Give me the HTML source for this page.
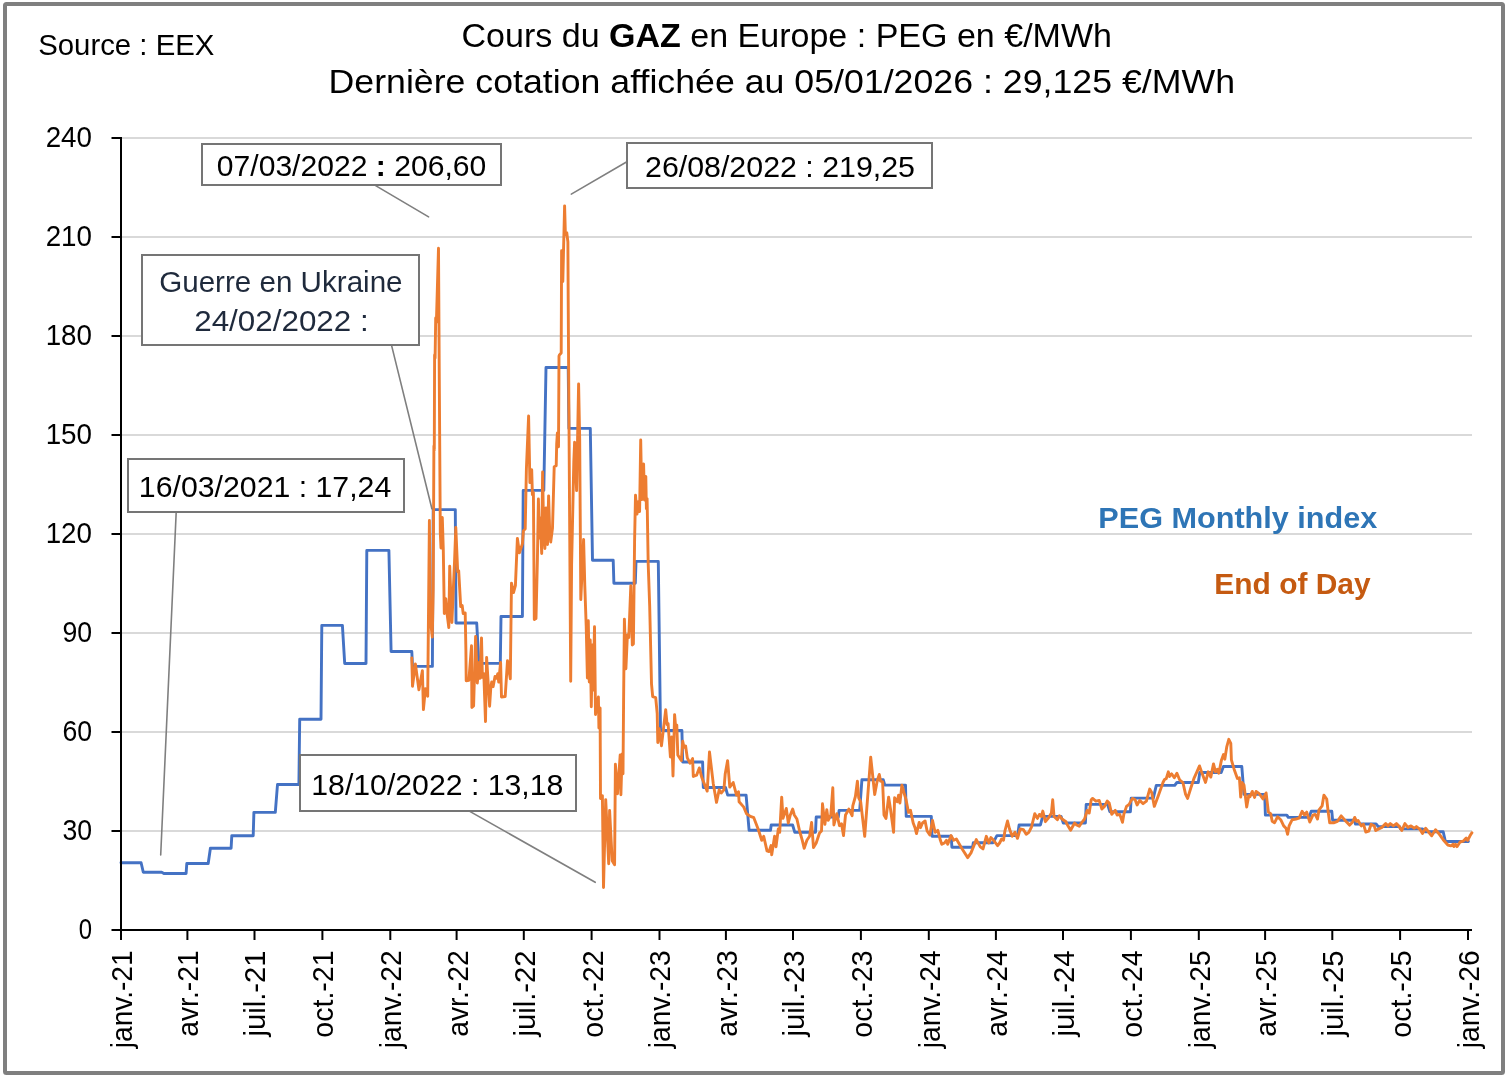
<!DOCTYPE html>
<html lang="fr">
<head>
<meta charset="utf-8">
<title>Cours du GAZ en Europe : PEG en €/MWh</title>
<style>html,body{margin:0;padding:0;background:#fff}svg{display:block}</style>
</head>
<body>
<svg width="1510" height="1076" viewBox="0 0 1510 1076" font-family="'Liberation Sans', sans-serif">
<defs><filter id="g" filterUnits="userSpaceOnUse" x="0" y="0" width="1510" height="1076"><feOffset dx="0" dy="0"/></filter></defs>
<rect x="0" y="0" width="1510" height="1076" fill="#ffffff"/>
<rect x="5" y="4" width="1498" height="1069" rx="1.5" ry="1.5" fill="#ffffff" stroke="#7f7f7f" stroke-width="4"/>
<line x1="121.0" y1="831.0" x2="1472.0" y2="831.0" stroke="#d9d9d9" stroke-width="2"/>
<line x1="121.0" y1="732.0" x2="1472.0" y2="732.0" stroke="#d9d9d9" stroke-width="2"/>
<line x1="121.0" y1="633.0" x2="1472.0" y2="633.0" stroke="#d9d9d9" stroke-width="2"/>
<line x1="121.0" y1="534.0" x2="1472.0" y2="534.0" stroke="#d9d9d9" stroke-width="2"/>
<line x1="121.0" y1="435.0" x2="1472.0" y2="435.0" stroke="#d9d9d9" stroke-width="2"/>
<line x1="121.0" y1="336.0" x2="1472.0" y2="336.0" stroke="#d9d9d9" stroke-width="2"/>
<line x1="121.0" y1="237.0" x2="1472.0" y2="237.0" stroke="#d9d9d9" stroke-width="2"/>
<line x1="121.0" y1="138.0" x2="1472.0" y2="138.0" stroke="#d9d9d9" stroke-width="2"/>
<path d="M121.0 862.7 L141.1 862.7 L143.3 872.3 L161.7 872.3 L163.9 873.5 L186.1 873.5 L186.8 863.5 L208.2 863.5 L210.4 848.2 L231.1 848.2 L231.8 835.7 L253.2 835.7 L253.9 812.4 L275.3 812.4 L277.5 784.5 L298.9 784.5 L299.7 719.2 L321.0 719.2 L321.8 625.4 L342.4 625.4 L344.7 663.5 L366.0 663.5 L366.8 550.4 L388.9 550.4 L391.1 651.5 L411.8 651.5 L412.5 666.4 L432.4 666.4 L433.2 509.6 L455.3 509.6 L456.0 623.0 L476.7 623.0 L478.9 663.4 L500.3 663.4 L501.0 616.5 L522.4 616.5 L523.2 490.4 L543.8 490.4 L546.0 367.5 L568.2 367.5 L568.9 428.4 L590.3 428.4 L592.5 560.3 L613.2 560.3 L613.9 583.3 L635.3 583.3 L636.0 561.4 L658.3 561.4 L660.5 730.5 L681.9 730.5 L682.7 762.0 L702.6 762.0 L703.3 787.5 L725.5 787.5 L727.7 795.1 L746.1 795.1 L749.1 830.3 L770.5 830.3 L771.2 825.0 L792.6 825.0 L794.8 832.3 L815.5 832.3 L816.2 817.0 L838.3 817.0 L839.1 810.4 L859.7 810.4 L861.9 779.8 L883.3 779.8 L884.8 785.1 L905.5 785.1 L906.2 816.4 L931.3 816.4 L932.0 836.3 L951.2 836.3 L951.9 847.2 L972.6 847.2 L973.3 842.7 L993.2 842.7 L996.9 835.6 L1017.6 835.6 L1019.1 825.0 L1040.4 825.0 L1042.7 816.4 L1061.1 816.4 L1063.3 823.0 L1085.4 823.0 L1086.2 804.4 L1107.6 804.4 L1109.8 811.7 L1130.4 811.7 L1131.2 798.1 L1153.3 798.1 L1156.3 785.4 L1174.7 785.4 L1176.9 782.5 L1198.3 782.5 L1199.8 772.5 L1221.2 772.5 L1223.4 766.5 L1241.8 766.5 L1244.0 794.4 L1264.7 794.4 L1265.4 815.1 L1286.8 815.1 L1288.3 817.4 L1309.0 817.4 L1311.2 811.3 L1331.8 811.3 L1332.6 820.2 L1354.7 820.2 L1355.4 824.0 L1376.1 824.0 L1378.3 826.6 L1399.7 826.6 L1400.4 828.9 L1422.6 828.9 L1424.8 831.7 L1443.2 831.7 L1445.4 841.5 L1468.4 841.5" fill="none" stroke="#4472c4" stroke-width="2.9" stroke-linejoin="round" stroke-linecap="round"/>
<path d="M411.8 657.9 L412.5 686.2 L415.4 663.9 L418.9 689.7 L422.4 670.8 L423.4 709.6 L425.4 688.7 L427.7 696.2 L429.4 520.5 L430.2 618.0 L432.3 637.0 L433.2 590.0 L433.9 446.0 L434.3 450.0 L434.6 355.0 L435.1 358.0 L435.7 318.0 L436.4 322.0 L438.5 248.2 L439.3 380.0 L440.3 533.0 L441.0 548.0 L442.3 517.5 L443.3 550.0 L444.3 613.6 L445.8 598.7 L447.3 615.6 L448.8 627.5 L449.7 566.3 L451.9 622.5 L454.6 560.0 L455.8 527.5 L457.7 571.8 L458.7 570.8 L460.7 606.6 L462.2 605.6 L463.2 613.6 L465.2 613.0 L465.9 650.0 L466.2 680.7 L468.9 680.2 L471.5 645.8 L471.9 707.5 L473.6 706.0 L475.6 636.5 L477.3 683.0 L479.2 662.5 L480.1 678.3 L481.5 637.9 L482.4 677.4 L483.8 673.7 L485.5 721.6 L486.6 657.4 L489.6 706.2 L490.8 687.6 L491.7 682.0 L493.1 686.7 L495.0 676.5 L496.4 678.3 L497.8 673.7 L498.7 682.0 L500.6 662.5 L501.5 697.0 L505.2 696.5 L507.5 660.7 L510.3 678.8 L511.2 605.5 L511.5 583.1 L513.5 592.6 L515.4 585.6 L517.4 538.4 L519.4 552.8 L522.4 543.9 L523.4 530.9 L525.2 528.9 L526.4 468.7 L528.6 416.0 L529.9 482.6 L531.7 469.7 L532.4 494.6 L533.4 492.6 L533.9 560.0 L534.3 619.5 L536.0 618.5 L537.4 560.0 L538.4 499.0 L539.4 538.0 L540.3 518.0 L541.7 553.5 L542.6 471.9 L543.6 528.0 L544.9 548.5 L546.0 508.0 L547.5 544.5 L548.6 495.9 L549.6 528.0 L550.7 542.0 L552.5 528.0 L554.2 466.7 L556.2 465.7 L556.7 443.8 L557.4 432.9 L558.5 446.8 L559.0 356.0 L559.6 354.7 L561.2 353.0 L561.6 250.7 L562.8 281.5 L564.6 205.9 L565.4 234.8 L566.8 232.8 L567.9 242.0 L568.2 300.0 L568.9 409.0 L569.6 516.0 L570.7 681.2 L571.6 565.0 L572.4 528.0 L573.8 462.0 L574.6 442.3 L576.6 490.6 L578.6 384.0 L579.7 440.0 L580.8 599.6 L583.6 539.4 L584.8 585.6 L586.2 626.0 L587.4 678.0 L588.3 620.8 L589.3 682.0 L590.2 640.0 L591.3 706.7 L592.4 645.0 L593.2 690.0 L594.5 626.7 L595.5 714.5 L598.4 697.0 L598.9 728.0 L600.1 708.0 L600.5 798.6 L602.4 795.7 L603.5 887.5 L605.7 799.6 L608.7 863.7 L609.6 810.5 L612.2 860.7 L614.6 864.7 L615.4 764.3 L617.5 793.7 L620.2 754.9 L620.9 794.7 L622.1 753.9 L623.0 773.8 L623.6 700.0 L624.4 619.1 L625.9 668.8 L627.4 634.9 L628.8 637.5 L630.8 585.7 L632.3 645.0 L633.4 644.0 L634.6 540.0 L635.5 495.2 L637.0 514.0 L638.3 501.6 L639.6 511.6 L640.7 440.0 L641.8 499.6 L643.6 464.0 L644.5 500.0 L645.8 476.4 L646.4 508.6 L647.1 498.6 L648.2 563.9 L649.7 606.6 L651.5 683.8 L652.7 696.7 L655.7 697.7 L657.2 713.6 L657.8 742.5 L659.2 728.6 L661.5 745.7 L665.7 709.7 L667.1 724.6 L668.1 723.6 L670.4 757.0 L671.8 737.0 L673.0 776.0 L674.6 714.6 L675.6 726.6 L676.8 725.1 L677.8 755.0 L681.3 760.6 L682.7 741.3 L684.0 747.3 L685.6 746.0 L687.3 757.9 L690.0 763.2 L692.6 758.6 L693.3 776.5 L696.6 775.2 L699.3 767.9 L701.9 777.8 L707.2 791.1 L709.5 751.9 L713.2 783.2 L716.5 802.4 L719.2 789.8 L721.2 793.1 L723.9 789.8 L725.2 773.9 L727.6 760.6 L729.8 787.1 L733.2 782.5 L736.5 795.1 L738.5 791.8 L739.1 801.8 L743.8 807.1 L746.5 813.7 L750.4 816.4 L753.8 817.7 L758.4 829.7 L761.7 840.3 L763.7 836.3 L767.0 850.9 L769.0 851.6 L771.0 845.6 L771.7 854.9 L774.6 836.3 L776.0 846.9 L778.3 829.0 L779.7 832.3 L781.7 797.1 L783.0 818.4 L786.3 808.4 L788.3 823.0 L790.3 815.0 L792.7 809.1 L794.3 815.0 L796.9 819.0 L799.6 831.0 L802.3 840.3 L804.2 848.3 L806.9 840.3 L809.6 836.3 L811.6 822.4 L813.5 847.6 L816.2 843.0 L819.5 833.0 L821.5 831.0 L822.5 803.8 L824.9 824.4 L826.8 809.7 L828.2 820.4 L830.8 815.0 L832.8 787.8 L833.9 825.0 L836.8 813.7 L839.5 825.7 L841.5 823.7 L843.5 835.6 L845.5 815.0 L848.8 809.1 L852.1 815.7 L852.8 805.8 L855.4 796.5 L857.4 781.2 L858.7 797.8 L860.7 801.8 L864.7 836.3 L868.7 783.2 L870.7 757.2 L874.7 794.5 L877.3 780.5 L879.3 774.5 L880.6 781.2 L882.6 781.8 L884.0 815.0 L886.0 818.4 L888.6 797.1 L890.6 809.7 L893.6 832.3 L894.6 797.8 L897.2 801.8 L898.6 795.1 L899.9 803.1 L901.9 785.1 L903.9 792.5 L905.9 799.1 L908.5 812.4 L910.5 810.4 L913.2 823.0 L915.2 828.3 L916.5 833.6 L919.2 822.4 L920.5 827.7 L922.5 823.0 L925.1 821.0 L927.1 831.0 L929.8 835.0 L932.5 820.4 L935.1 832.3 L937.8 830.3 L940.4 840.3 L941.8 844.3 L944.4 843.0 L946.4 840.3 L947.7 844.3 L951.1 835.6 L953.7 840.3 L956.4 839.0 L961.7 848.3 L967.7 857.6 L971.0 852.9 L976.3 839.6 L980.3 846.9 L983.0 848.9 L986.3 836.3 L988.9 843.0 L990.9 837.6 L993.6 840.3 L997.6 845.6 L999.6 843.0 L1001.6 839.0 L1003.5 840.3 L1004.9 831.0 L1007.5 821.0 L1009.5 829.0 L1012.2 836.3 L1014.9 832.3 L1017.5 838.3 L1020.2 829.0 L1023.5 829.7 L1026.2 834.3 L1028.8 832.3 L1031.5 827.0 L1034.8 813.7 L1037.4 818.4 L1039.4 814.4 L1041.4 816.4 L1042.8 811.1 L1045.4 821.7 L1048.1 818.4 L1051.4 813.1 L1052.7 799.8 L1054.0 816.4 L1057.4 819.7 L1059.4 815.7 L1062.0 819.0 L1066.0 821.7 L1066.6 823.6 L1070.6 830.3 L1074.6 823.0 L1076.6 825.0 L1079.3 826.3 L1081.9 822.3 L1084.6 819.0 L1087.2 810.4 L1089.2 813.0 L1091.2 799.7 L1092.6 798.4 L1095.9 801.1 L1099.2 800.4 L1101.9 809.0 L1104.5 806.4 L1107.2 801.1 L1109.2 803.1 L1111.8 814.4 L1115.2 810.4 L1117.1 815.0 L1119.8 814.4 L1122.5 822.3 L1123.8 814.4 L1126.5 806.4 L1129.1 804.4 L1132.4 798.4 L1135.1 799.7 L1137.1 805.0 L1139.7 800.4 L1143.1 803.7 L1146.4 801.1 L1149.7 789.1 L1151.7 792.4 L1154.3 806.4 L1158.3 795.8 L1163.0 782.5 L1164.3 779.8 L1166.3 778.5 L1168.3 771.8 L1169.6 776.5 L1171.6 773.8 L1174.3 777.8 L1176.9 773.2 L1179.6 779.8 L1182.9 782.5 L1185.6 794.4 L1187.6 798.4 L1190.9 787.8 L1194.2 777.8 L1196.9 771.8 L1199.5 765.9 L1201.5 771.8 L1205.5 782.5 L1208.2 771.8 L1210.8 777.1 L1213.5 763.9 L1215.5 771.8 L1217.5 769.2 L1218.8 773.2 L1221.5 759.9 L1223.5 754.5 L1224.8 759.2 L1226.8 746.6 L1228.8 739.3 L1230.8 743.3 L1231.4 759.9 L1234.1 769.2 L1237.4 778.5 L1239.4 777.8 L1240.7 797.1 L1242.1 782.5 L1244.0 785.1 L1246.7 807.0 L1248.7 795.8 L1250.0 796.7 L1252.3 791.4 L1254.6 797.5 L1256.1 791.4 L1259.2 793.7 L1263.0 799.0 L1266.1 792.9 L1268.4 812.1 L1270.7 813.6 L1272.2 821.3 L1274.5 822.8 L1277.6 816.7 L1280.7 819.7 L1283.7 825.9 L1286.0 828.2 L1287.6 834.3 L1289.1 825.9 L1292.2 819.7 L1296.0 819.0 L1299.1 818.2 L1302.1 811.3 L1304.4 815.1 L1306.7 812.1 L1309.8 822.0 L1312.9 815.1 L1315.2 814.4 L1317.5 819.0 L1319.0 809.8 L1322.1 805.9 L1323.9 795.2 L1326.7 799.0 L1328.2 812.1 L1329.7 822.8 L1333.6 822.8 L1337.4 821.3 L1341.2 815.9 L1345.8 821.3 L1349.7 825.1 L1352.7 822.0 L1354.7 817.4 L1356.6 821.3 L1358.1 820.5 L1361.2 825.9 L1363.5 824.3 L1365.8 832.0 L1368.8 831.2 L1371.1 824.3 L1374.2 825.9 L1375.7 830.5 L1378.8 828.9 L1381.9 827.4 L1385.7 823.6 L1388.0 825.9 L1390.3 823.6 L1393.4 825.9 L1396.4 823.6 L1398.7 825.9 L1401.8 830.5 L1404.9 823.6 L1407.9 827.4 L1411.0 825.9 L1414.1 828.2 L1416.4 826.6 L1420.2 829.7 L1422.5 833.5 L1425.6 828.2 L1428.6 832.0 L1431.7 835.8 L1435.5 829.7 L1439.4 834.3 L1443.2 839.7 L1447.8 845.0 L1450.9 845.8 L1453.2 844.3 L1453.9 846.6 L1455.5 844.3 L1457.0 846.6 L1460.1 842.0 L1463.1 841.2 L1466.2 838.1 L1467.7 840.4 L1470.0 835.8 L1471.9 832.8" fill="none" stroke="#ed7d31" stroke-width="2.9" stroke-linejoin="round" stroke-linecap="round"/>
<line x1="121.0" y1="137" x2="121.0" y2="931.0" stroke="#000" stroke-width="2"/>
<line x1="120.0" y1="930.0" x2="1472.0" y2="930.0" stroke="#000" stroke-width="2"/>
<line x1="111.5" y1="930.0" x2="121.0" y2="930.0" stroke="#000" stroke-width="2"/>
<line x1="111.5" y1="831.0" x2="121.0" y2="831.0" stroke="#000" stroke-width="2"/>
<line x1="111.5" y1="732.0" x2="121.0" y2="732.0" stroke="#000" stroke-width="2"/>
<line x1="111.5" y1="633.0" x2="121.0" y2="633.0" stroke="#000" stroke-width="2"/>
<line x1="111.5" y1="534.0" x2="121.0" y2="534.0" stroke="#000" stroke-width="2"/>
<line x1="111.5" y1="435.0" x2="121.0" y2="435.0" stroke="#000" stroke-width="2"/>
<line x1="111.5" y1="336.0" x2="121.0" y2="336.0" stroke="#000" stroke-width="2"/>
<line x1="111.5" y1="237.0" x2="121.0" y2="237.0" stroke="#000" stroke-width="2"/>
<line x1="111.5" y1="138.0" x2="121.0" y2="138.0" stroke="#000" stroke-width="2"/>
<line x1="121.0" y1="930.0" x2="121.0" y2="940" stroke="#000" stroke-width="2"/>
<line x1="187.4" y1="930.0" x2="187.4" y2="940" stroke="#000" stroke-width="2"/>
<line x1="254.5" y1="930.0" x2="254.5" y2="940" stroke="#000" stroke-width="2"/>
<line x1="322.4" y1="930.0" x2="322.4" y2="940" stroke="#000" stroke-width="2"/>
<line x1="390.3" y1="930.0" x2="390.3" y2="940" stroke="#000" stroke-width="2"/>
<line x1="456.6" y1="930.0" x2="456.6" y2="940" stroke="#000" stroke-width="2"/>
<line x1="523.8" y1="930.0" x2="523.8" y2="940" stroke="#000" stroke-width="2"/>
<line x1="591.6" y1="930.0" x2="591.6" y2="940" stroke="#000" stroke-width="2"/>
<line x1="659.5" y1="930.0" x2="659.5" y2="940" stroke="#000" stroke-width="2"/>
<line x1="725.9" y1="930.0" x2="725.9" y2="940" stroke="#000" stroke-width="2"/>
<line x1="793.0" y1="930.0" x2="793.0" y2="940" stroke="#000" stroke-width="2"/>
<line x1="860.9" y1="930.0" x2="860.9" y2="940" stroke="#000" stroke-width="2"/>
<line x1="928.8" y1="930.0" x2="928.8" y2="940" stroke="#000" stroke-width="2"/>
<line x1="995.9" y1="930.0" x2="995.9" y2="940" stroke="#000" stroke-width="2"/>
<line x1="1063.0" y1="930.0" x2="1063.0" y2="940" stroke="#000" stroke-width="2"/>
<line x1="1130.9" y1="930.0" x2="1130.9" y2="940" stroke="#000" stroke-width="2"/>
<line x1="1198.8" y1="930.0" x2="1198.8" y2="940" stroke="#000" stroke-width="2"/>
<line x1="1265.1" y1="930.0" x2="1265.1" y2="940" stroke="#000" stroke-width="2"/>
<line x1="1332.3" y1="930.0" x2="1332.3" y2="940" stroke="#000" stroke-width="2"/>
<line x1="1400.1" y1="930.0" x2="1400.1" y2="940" stroke="#000" stroke-width="2"/>
<line x1="1468.0" y1="930.0" x2="1468.0" y2="940" stroke="#000" stroke-width="2"/>
<line x1="375.6" y1="185.6" x2="428.6" y2="216.9" stroke="#7f7f7f" stroke-width="1.6" stroke-linecap="round"/>
<line x1="391.5" y1="345.1" x2="431.9" y2="508.8" stroke="#7f7f7f" stroke-width="1.6" stroke-linecap="round"/>
<line x1="626.9" y1="161.8" x2="571.3" y2="194.1" stroke="#7f7f7f" stroke-width="1.6" stroke-linecap="round"/>
<line x1="176.2" y1="512.0" x2="160.7" y2="855.0" stroke="#7f7f7f" stroke-width="1.6" stroke-linecap="round"/>
<line x1="470.2" y1="811.6" x2="595.2" y2="882.3" stroke="#7f7f7f" stroke-width="1.6" stroke-linecap="round"/>
<rect x="202" y="144" width="299.0" height="41.0" fill="#fff" stroke="#757575" stroke-width="2"/>
<rect x="142" y="255" width="277.0" height="90.0" fill="#fff" stroke="#757575" stroke-width="2"/>
<rect x="627" y="143" width="305.0" height="45.0" fill="#fff" stroke="#757575" stroke-width="2"/>
<rect x="128" y="459" width="276.0" height="53.0" fill="#fff" stroke="#757575" stroke-width="2"/>
<rect x="300" y="755" width="276.0" height="56.0" fill="#fff" stroke="#757575" stroke-width="2"/>
<g filter="url(#g)">
<text x="92" y="939.0" font-size="28.9" text-anchor="end" textLength="13.3" lengthAdjust="spacingAndGlyphs" fill="#000">0</text>
<text x="92" y="840.0" font-size="28.9" text-anchor="end" textLength="29.6" lengthAdjust="spacingAndGlyphs" fill="#000">30</text>
<text x="92" y="741.0" font-size="28.9" text-anchor="end" textLength="29.6" lengthAdjust="spacingAndGlyphs" fill="#000">60</text>
<text x="92" y="642.0" font-size="28.9" text-anchor="end" textLength="29.6" lengthAdjust="spacingAndGlyphs" fill="#000">90</text>
<text x="92" y="543.0" font-size="28.9" text-anchor="end" textLength="46.3" lengthAdjust="spacingAndGlyphs" fill="#000">120</text>
<text x="92" y="444.0" font-size="28.9" text-anchor="end" textLength="46.3" lengthAdjust="spacingAndGlyphs" fill="#000">150</text>
<text x="92" y="345.0" font-size="28.9" text-anchor="end" textLength="46.3" lengthAdjust="spacingAndGlyphs" fill="#000">180</text>
<text x="92" y="246.0" font-size="28.9" text-anchor="end" textLength="46.3" lengthAdjust="spacingAndGlyphs" fill="#000">210</text>
<text x="92" y="147.0" font-size="28.9" text-anchor="end" textLength="46.3" lengthAdjust="spacingAndGlyphs" fill="#000">240</text>
<text transform="translate(131.9 950.4) rotate(-90)" font-size="28.9" text-anchor="end" textLength="97.8" lengthAdjust="spacingAndGlyphs" fill="#000">janv.-21</text>
<text transform="translate(198.3 950.4) rotate(-90)" font-size="28.9" text-anchor="end" textLength="86.3" lengthAdjust="spacingAndGlyphs" fill="#000">avr.-21</text>
<text transform="translate(265.4 950.4) rotate(-90)" font-size="28.9" text-anchor="end" textLength="86.1" lengthAdjust="spacingAndGlyphs" fill="#000">juil.-21</text>
<text transform="translate(333.3 950.4) rotate(-90)" font-size="28.9" text-anchor="end" textLength="87.3" lengthAdjust="spacingAndGlyphs" fill="#000">oct.-21</text>
<text transform="translate(401.2 950.4) rotate(-90)" font-size="28.9" text-anchor="end" textLength="97.8" lengthAdjust="spacingAndGlyphs" fill="#000">janv.-22</text>
<text transform="translate(467.5 950.4) rotate(-90)" font-size="28.9" text-anchor="end" textLength="86.3" lengthAdjust="spacingAndGlyphs" fill="#000">avr.-22</text>
<text transform="translate(534.7 950.4) rotate(-90)" font-size="28.9" text-anchor="end" textLength="86.1" lengthAdjust="spacingAndGlyphs" fill="#000">juil.-22</text>
<text transform="translate(602.5 950.4) rotate(-90)" font-size="28.9" text-anchor="end" textLength="87.3" lengthAdjust="spacingAndGlyphs" fill="#000">oct.-22</text>
<text transform="translate(670.4 950.4) rotate(-90)" font-size="28.9" text-anchor="end" textLength="97.8" lengthAdjust="spacingAndGlyphs" fill="#000">janv.-23</text>
<text transform="translate(736.8 950.4) rotate(-90)" font-size="28.9" text-anchor="end" textLength="86.3" lengthAdjust="spacingAndGlyphs" fill="#000">avr.-23</text>
<text transform="translate(803.9 950.4) rotate(-90)" font-size="28.9" text-anchor="end" textLength="86.1" lengthAdjust="spacingAndGlyphs" fill="#000">juil.-23</text>
<text transform="translate(871.8 950.4) rotate(-90)" font-size="28.9" text-anchor="end" textLength="87.3" lengthAdjust="spacingAndGlyphs" fill="#000">oct.-23</text>
<text transform="translate(939.7 950.4) rotate(-90)" font-size="28.9" text-anchor="end" textLength="97.8" lengthAdjust="spacingAndGlyphs" fill="#000">janv.-24</text>
<text transform="translate(1006.8 950.4) rotate(-90)" font-size="28.9" text-anchor="end" textLength="86.3" lengthAdjust="spacingAndGlyphs" fill="#000">avr.-24</text>
<text transform="translate(1073.9 950.4) rotate(-90)" font-size="28.9" text-anchor="end" textLength="86.1" lengthAdjust="spacingAndGlyphs" fill="#000">juil.-24</text>
<text transform="translate(1141.8 950.4) rotate(-90)" font-size="28.9" text-anchor="end" textLength="87.3" lengthAdjust="spacingAndGlyphs" fill="#000">oct.-24</text>
<text transform="translate(1209.7 950.4) rotate(-90)" font-size="28.9" text-anchor="end" textLength="97.8" lengthAdjust="spacingAndGlyphs" fill="#000">janv.-25</text>
<text transform="translate(1276.0 950.4) rotate(-90)" font-size="28.9" text-anchor="end" textLength="86.3" lengthAdjust="spacingAndGlyphs" fill="#000">avr.-25</text>
<text transform="translate(1343.2 950.4) rotate(-90)" font-size="28.9" text-anchor="end" textLength="86.1" lengthAdjust="spacingAndGlyphs" fill="#000">juil.-25</text>
<text transform="translate(1411.0 950.4) rotate(-90)" font-size="28.9" text-anchor="end" textLength="87.3" lengthAdjust="spacingAndGlyphs" fill="#000">oct.-25</text>
<text transform="translate(1478.9 950.4) rotate(-90)" font-size="28.9" text-anchor="end" textLength="97.8" lengthAdjust="spacingAndGlyphs" fill="#000">janv.-26</text>
<text x="216.8" y="175.9" font-size="28.9" textLength="269.5" lengthAdjust="spacingAndGlyphs" fill="#000">07/03/2022 <tspan font-weight="bold">:</tspan> 206,60</text>
<text x="159.2" y="291.8" font-size="28.9" font-weight="normal" text-anchor="start" textLength="243.4" lengthAdjust="spacingAndGlyphs" fill="#1f2a3c">Guerre en Ukraine</text>
<text x="194.2" y="331.0" font-size="28.9" font-weight="normal" text-anchor="start" textLength="174.5" lengthAdjust="spacingAndGlyphs" fill="#1f2a3c">24/02/2022 :</text>
<text x="645" y="177.1" font-size="28.9" font-weight="normal" text-anchor="start" textLength="270" lengthAdjust="spacingAndGlyphs" fill="#000">26/08/2022 : 219,25</text>
<text x="138.8" y="496.6" font-size="28.9" font-weight="normal" text-anchor="start" textLength="252.5" lengthAdjust="spacingAndGlyphs" fill="#000">16/03/2021 : 17,24</text>
<text x="311.3" y="794.6" font-size="28.9" font-weight="normal" text-anchor="start" textLength="252" lengthAdjust="spacingAndGlyphs" fill="#000">18/10/2022 : 13,18</text>
<text x="38.2" y="55.1" font-size="29.8" font-weight="normal" text-anchor="start" textLength="176.2" lengthAdjust="spacingAndGlyphs" fill="#000">Source : EEX</text>
<text x="461.5" y="46.8" font-size="33.5" textLength="650.5" lengthAdjust="spacingAndGlyphs" fill="#000">Cours du <tspan font-weight="bold">GAZ</tspan> en Europe : PEG en €/MWh</text>
<text x="328.5" y="93.4" font-size="33.5" font-weight="normal" text-anchor="start" textLength="906.5" lengthAdjust="spacingAndGlyphs" fill="#000">Dernière cotation affichée au 05/01/2026 : 29,125 €/MWh</text>
<text x="1098.3" y="528.3" font-size="29.7" font-weight="bold" text-anchor="start" textLength="279" lengthAdjust="spacingAndGlyphs" fill="#2e75b6">PEG Monthly index</text>
<text x="1214.3" y="594.4" font-size="29.7" font-weight="bold" text-anchor="start" textLength="156.3" lengthAdjust="spacingAndGlyphs" fill="#c55a11">End of Day</text>
</g>
</svg>
</body>
</html>
